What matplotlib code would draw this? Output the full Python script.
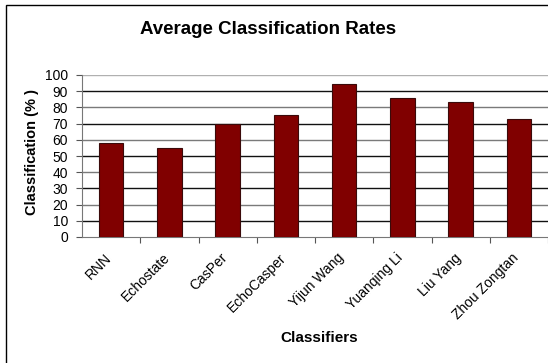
import matplotlib
matplotlib.use("Agg")
import matplotlib.pyplot as plt
from matplotlib.patches import Rectangle
import numpy as np

plt.rcParams['font.family'] = ['Liberation Sans', 'DejaVu Sans']

# data
classifiers = ["RNN", "Echostate", "CasPer", "EchoCasper", "Yijun Wang",
               "Yuanqing Li", "Liu Yang", "Zhou Zongtan"]
rates = [58, 54.7, 70, 75.3, 94.3, 85.5, 83.6, 72.7]
yticks = list(range(0, 101, 10))

W, H = 548, 363
fig = plt.figure(figsize=(W / 100, H / 100), dpi=100)

# outer chart frame (right/bottom cut off like the screenshot)
fig.patches.append(Rectangle((6 / W, -0.1), 1.2, 1 - 5 / H + 0.1,
                             transform=fig.transFigure, fill=False,
                             edgecolor="black", linewidth=1.0))

ax = fig.add_axes([82 / W, 1 - 237 / H, (548 - 82) / W, (237 - 75) / H])

x = np.arange(len(classifiers))
ax.bar(x, rates, width=0.42, color="#800000", edgecolor="#3a0a0a",
       linewidth=0.8, zorder=3)

ax.set_xlim(-0.5, len(classifiers) - 0.5)
ax.set_ylim(0, 100)
ax.set_yticks(yticks)
ax.set_yticklabels([str(t) for t in yticks], fontsize=10)

# gridlines (alternating dark/grey look of the original)
for t in yticks[1:]:
    c = "#111111" if (t // 10) % 2 == 1 else "#7a7a7a"
    if t == 100:
        c = "#b0b0b0"
    ax.axhline(t, color=c, linewidth=1.0, zorder=1)

# category-boundary ticks on the x axis
ax.set_xticks(x + 0.5, minor=False)
ax.set_xticklabels([])
ax.tick_params(axis="x", length=4, color="#555555", direction="out")
ax.tick_params(axis="y", length=4, color="#555555", direction="out", pad=6)

for xi, name in zip(x, classifiers):
    ax.text(xi - 0.12, -8.5, name, rotation=45, ha="right", va="top",
            rotation_mode="anchor", fontsize=10,
            transform=ax.transData, clip_on=False)

for s in ["top", "right"]:
    ax.spines[s].set_visible(False)
for s in ["left", "bottom"]:
    ax.spines[s].set_color("#777777")

fig.text(268 / W, 1 - 30 / H, "Average Classification Rates",
         ha="center", va="center", fontsize=13.5, fontweight="bold")
fig.text(32 / W, 1 - 152 / H, "Classification (% )", rotation=90,
         ha="center", va="center", fontsize=10.5, fontweight="bold")
fig.text(319 / W, 1 - 338 / H, "Classifiers",
         ha="center", va="center", fontsize=11, fontweight="bold")

fig.savefig("out.png", dpi=100, facecolor="white")
